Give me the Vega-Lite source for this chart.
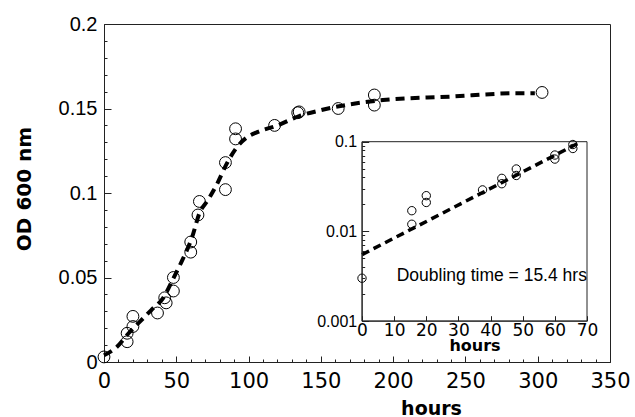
{
  "$schema": "https://vega.github.io/schema/vega-lite/v6.json",
  "width": 506,
  "height": 338,
  "autosize": "none",
  "padding": {"left": 104, "top": 24, "right": 25, "bottom": 55},
  "background": "white",
  "config": {
    "view": {"stroke": "#222", "strokeWidth": 1},
    "axis": {"grid": false, "domainColor": "#222", "tickColor": "#222", "labelColor": "black", "titleColor": "black"}
  },
  "datasets": {
    "main": [
      {"hours": 0, "od": 0.003}, {"hours": 16, "od": 0.012}, {"hours": 16, "od": 0.017},
      {"hours": 20, "od": 0.021}, {"hours": 20, "od": 0.027}, {"hours": 37, "od": 0.029},
      {"hours": 43, "od": 0.035}, {"hours": 42, "od": 0.038}, {"hours": 48, "od": 0.042},
      {"hours": 48, "od": 0.050}, {"hours": 60, "od": 0.065}, {"hours": 60, "od": 0.071},
      {"hours": 65, "od": 0.087}, {"hours": 66, "od": 0.095}, {"hours": 84, "od": 0.102},
      {"hours": 84, "od": 0.118}, {"hours": 91, "od": 0.132}, {"hours": 91, "od": 0.138},
      {"hours": 118, "od": 0.140}, {"hours": 134, "od": 0.1475}, {"hours": 135, "od": 0.148},
      {"hours": 162, "od": 0.150}, {"hours": 187, "od": 0.152}, {"hours": 187, "od": 0.158},
      {"hours": 303, "od": 0.1595}
    ],
    "mainfit": [
      {"hours": 0, "od": 0.004}, {"hours": 9, "od": 0.009}, {"hours": 17, "od": 0.017},
      {"hours": 25, "od": 0.024}, {"hours": 33, "od": 0.031}, {"hours": 41, "od": 0.038},
      {"hours": 48, "od": 0.0495}, {"hours": 54, "od": 0.060}, {"hours": 61, "od": 0.074},
      {"hours": 66, "od": 0.088}, {"hours": 72, "od": 0.096}, {"hours": 78, "od": 0.105},
      {"hours": 85, "od": 0.1175}, {"hours": 91, "od": 0.126}, {"hours": 99, "od": 0.133},
      {"hours": 106, "od": 0.136}, {"hours": 120, "od": 0.140}, {"hours": 135, "od": 0.1455},
      {"hours": 150, "od": 0.149}, {"hours": 193, "od": 0.155}, {"hours": 239, "od": 0.157},
      {"hours": 285, "od": 0.159}, {"hours": 298, "od": 0.159}
    ],
    "inset": [
      {"h": 0, "od": 0.003}, {"h": 15.5, "od": 0.012}, {"h": 15.5, "od": 0.017},
      {"h": 20, "od": 0.021}, {"h": 20, "od": 0.025}, {"h": 37.5, "od": 0.029},
      {"h": 43.5, "od": 0.034}, {"h": 43.5, "od": 0.039}, {"h": 48, "od": 0.042},
      {"h": 48, "od": 0.0496}, {"h": 60, "od": 0.064}, {"h": 60, "od": 0.071},
      {"h": 65.6, "od": 0.084}, {"h": 65.6, "od": 0.093}
    ],
    "insetfit": [{"h": 0, "od": 0.0055}, {"h": 67, "od": 0.095}],
    "insetbox": [{"h": 0, "h2": 70, "od": 0.001, "od2": 0.1}],
    "label": [{"h": 10.8, "od": 0.0028, "text": "Doubling time = 15.4 hrs"}]
  },
  "layer": [
    {
      "layer": [
        {
          "data": {"name": "mainfit"},
          "mark": {"type": "line", "stroke": "black", "strokeWidth": 4, "strokeDash": [9, 6], "interpolate": "monotone"},
          "encoding": {
            "x": {"field": "hours", "type": "quantitative",
              "scale": {"domain": [0, 350], "nice": false, "zero": false},
              "axis": {"orient": "bottom", "values": [0, 50, 100, 150, 200, 250, 300, 350], "tickSize": -6,
                "labelFont": "DejaVu Sans", "labelFontSize": 21, "labelPadding": 14, "labelFlush": false, "labelOverlap": false,
                "title": "hours", "titleFont": "DejaVu Sans", "titleFontSize": 19, "titleFontWeight": "bold",
                "titleX": 327, "titleY": 52, "titleBaseline": "alphabetic"}},
            "y": {"field": "od", "type": "quantitative",
              "scale": {"domain": [0, 0.2], "nice": false},
              "axis": {"orient": "left", "values": [0, 0.05, 0.1, 0.15, 0.2], "format": ".2~f", "tickSize": -7,
                "labelFont": "Liberation Sans", "labelFontSize": 20, "labelPadding": 14,
                "title": "OD 600 nm", "titleFont": "DejaVu Sans", "titleFontSize": 20, "titleFontWeight": "bold",
                "titleX": -80, "titleY": 164.5, "titleAngle": -90, "titleBaseline": "middle", "titleAlign": "center"}}
          }
        },
        {
          "data": {"name": "main"},
          "mark": {"type": "point", "shape": "circle", "size": 140, "stroke": "black", "strokeWidth": 1, "filled": false, "opacity": 1},
          "encoding": {
            "x": {"field": "hours", "type": "quantitative"},
            "y": {"field": "od", "type": "quantitative"}
          }
        }
      ]
    },
    {
      "data": {"name": "main"},
      "mark": {"type": "point", "opacity": 0},
      "encoding": {
        "x": {"field": "hours", "type": "quantitative",
          "scale": {"domain": [0, 350], "nice": false, "zero": false},
          "axis": {"orient": "bottom", "values": [10, 20, 30, 40, 60, 70, 80, 90, 110, 120, 130, 140, 160, 170, 180, 190, 210, 220, 230, 240, 260, 270, 280, 290, 310, 320, 330, 340],
            "tickSize": -3, "labels": false, "domain": false, "title": null}},
        "y": {"field": "od", "type": "quantitative",
          "scale": {"domain": [0, 0.2], "nice": false},
          "axis": {"orient": "left", "values": [0.01, 0.02, 0.03, 0.04, 0.06, 0.07, 0.08, 0.09, 0.11, 0.12, 0.13, 0.14, 0.16, 0.17, 0.18, 0.19],
            "tickSize": -3, "labels": false, "domain": false, "title": null}}
      }
    },
    {
      "layer": [
        {
          "data": {"name": "insetbox"},
          "mark": {"type": "rect", "fillOpacity": 0, "stroke": "#222", "strokeWidth": 1},
          "encoding": {
            "x": {"field": "h", "type": "quantitative",
              "scale": {"domain": [0, 70], "range": [258, 483], "nice": false, "zero": false},
              "axis": {"orient": "bottom", "offset": -41.3, "values": [0, 10, 20, 30, 40, 50, 60, 70], "tickSize": -5,
                "labelFont": "DejaVu Sans", "labelFontSize": 17, "labelPadding": 7, "labelFlush": false, "labelOverlap": false,
                "title": "hours", "titleFont": "DejaVu Sans", "titleFontSize": 16, "titleFontWeight": "bold",
                "titleY": 30, "titleBaseline": "alphabetic", "zindex": 1}},
            "x2": {"field": "h2"},
            "y": {"field": "od", "type": "quantitative",
              "scale": {"type": "log", "domain": [0.001, 0.1], "range": [297, 117.7], "nice": false},
              "axis": {"orient": "left", "offset": -257.7, "values": [0.001, 0.01, 0.1], "format": "~g", "tickSize": -7,
                "labelFont": "Liberation Sans", "labelFontSize": 16, "labelPadding": 12, "title": null, "zindex": 1}},
            "y2": {"field": "od2"}
          }
        },
        {
          "data": {"name": "insetfit"},
          "mark": {"type": "line", "stroke": "black", "strokeWidth": 3.5, "strokeDash": [8, 5]},
          "encoding": {
            "x": {"field": "h", "type": "quantitative"},
            "y": {"field": "od", "type": "quantitative"}
          }
        },
        {
          "data": {"name": "inset"},
          "mark": {"type": "point", "shape": "circle", "size": 70, "stroke": "black", "strokeWidth": 1, "filled": false, "opacity": 1},
          "encoding": {
            "x": {"field": "h", "type": "quantitative"},
            "y": {"field": "od", "type": "quantitative"}
          }
        },
        {
          "data": {"name": "label"},
          "mark": {"type": "text", "align": "left", "baseline": "alphabetic", "font": "Liberation Sans", "fontSize": 17.5, "color": "black"},
          "encoding": {
            "x": {"field": "h", "type": "quantitative"},
            "y": {"field": "od", "type": "quantitative"},
            "text": {"field": "text"}
          }
        }
      ]
    },
    {
      "data": {"name": "inset"},
      "mark": {"type": "point", "opacity": 0},
      "encoding": {
        "x": {"field": "h", "type": "quantitative",
          "scale": {"domain": [0, 70], "range": [258, 483], "nice": false, "zero": false},
          "axis": null},
        "y": {"field": "od", "type": "quantitative",
          "scale": {"type": "log", "domain": [0.001, 0.1], "range": [297, 117.7], "nice": false},
          "axis": {"orient": "left", "offset": -257.7, "values": [0.002, 0.003, 0.004, 0.005, 0.006, 0.007, 0.008, 0.009, 0.02, 0.03, 0.04, 0.05, 0.06, 0.07, 0.08, 0.09],
            "tickSize": -3, "labels": false, "domain": false, "title": null, "zindex": 1}}
      }
    }
  ],
  "resolve": {"scale": {"x": "independent", "y": "independent"}, "axis": {"x": "independent", "y": "independent"}}
}
